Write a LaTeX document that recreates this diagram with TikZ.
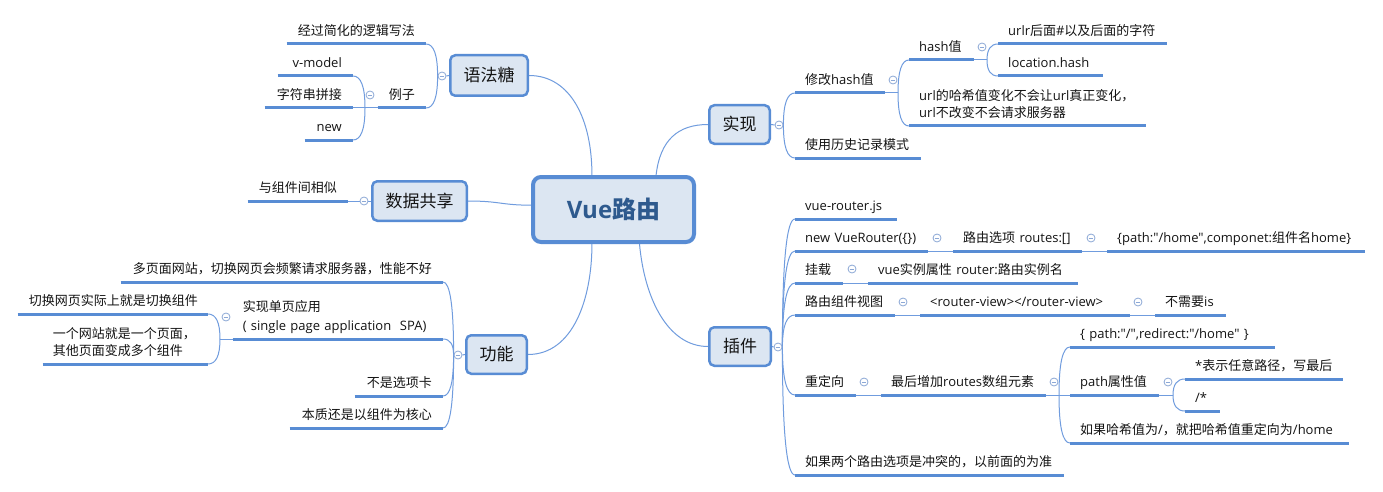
\documentclass[tikz,border=0pt]{standalone}
\usepackage{fontspec}
\setmainfont{Open Sans}[Ligatures=TeXOff]
\newfontfamily\cjkf{Noto Sans CJK SC}[Ligatures=TeXOff]
\newfontfamily\latf{Open Sans}[Ligatures=TeXOff]
\usetikzlibrary{calc}
\XeTeXinterchartokenstate=1
\newXeTeXintercharclass\CJKcls
\newcount\mycnt
\def\setcjkrange#1#2{\mycnt=#1\relax\loop\XeTeXcharclass\mycnt=\CJKcls\advance\mycnt by 1\relax\ifnum\mycnt<#2\relax\repeat}
\setcjkrange{"3000}{"3040}
\setcjkrange{"4E00}{"A000}
\setcjkrange{"FF00}{"FFF0}
\XeTeXinterchartoks 0 \CJKcls={\cjkf}
\XeTeXinterchartoks 4095 \CJKcls={\cjkf}
\XeTeXinterchartoks \CJKcls 0={\latf}
\XeTeXinterchartoks 4095 0={\latf}
\newcommand\mystrut{\rule[-4pt]{0pt}{13pt}}
\definecolor{lineC}{RGB}{88,140,212}
\definecolor{connC}{RGB}{112,156,222}
\definecolor{boxF}{RGB}{220,230,242}
\definecolor{circC}{RGB}{140,168,214}
\definecolor{vueT}{RGB}{46,90,142}
\definecolor{txtC}{RGB}{20,20,20}
\pgfdeclarelayer{bg}
\pgfsetlayers{bg,main}
\tikzset{
  tbase/.style={inner ysep=4pt, text=txtC, font=\latf\fontsize{13}{18}\selectfont, execute at end node=\mystrut},
  rtop/.style={tbase, anchor=south west, inner xsep=10pt, align=left, text width=#1},
  ltop/.style={tbase, anchor=south east, inner xsep=11pt, align=right, text width=#1},
  lmul/.style={tbase, anchor=south east, inner xsep=10pt, align=left, text width=#1},
  bx/.style={draw=lineC, line width=2.5pt, fill=boxF, rounded corners=5pt, font=\latf\fontsize{17}{20}\selectfont, text=txtC, inner sep=0pt},
  vuebx/.style={draw=lineC, line width=4pt, fill=boxF, rounded corners=8pt, font=\latf\bfseries\fontsize{24}{28}\selectfont, text=vueT, inner sep=0pt},
  tog/.style={circle, draw=circC, fill=white, line width=0.8pt, minimum size=8pt, inner sep=0pt,
    path picture={\draw[circC, line width=0.8pt] ([xshift=-2.3pt]path picture bounding box.center) -- ([xshift=2.3pt]path picture bounding box.center);}},
  conn/.style={draw=connC, line width=1pt},
  uline/.style={draw=lineC, line width=3pt},
  qc/.style={to path={let \p1=(\tikztostart), \p2=(\tikztotarget) in .. controls (\x1,{\y1+0.667*(\y2-\y1)}) and ({\x2+0.667*(\x1-\x2)},\y2) .. (\tikztotarget)}}
}
\begin{document}
\begin{tikzpicture}[x=1pt,y=-1pt]
\useasboundingbox (0,0) rectangle (1383,492);
% central and main boxes
\node[vuebx, minimum width=161pt, minimum height=65pt] (vue) at (613.5,209.5) {Vue路由};
\node[bx, minimum width=77.5pt, minimum height=40.5pt] (ysy) at (489,75.5) {语法糖};
\node[bx, minimum width=94.5pt, minimum height=39.5pt] (sj) at (419.5,201) {数据共享};
\node[bx, minimum width=60.5pt, minimum height=38.5pt] (gn) at (496.5,354.5) {功能};
\node[bx, minimum width=60.5pt, minimum height=38.5pt] (sx) at (739.5,124.5) {实现};
\node[bx, minimum width=61.5pt, minimum height=38.5pt] (cj) at (740,346.5) {插件};
% left topics
\node[ltop=117pt] (L1) at (426,44) {经过简化的逻辑写法};
\node[ltop=26pt] (L2) at (426,108) {例子};
\node[ltop=53pt] (L3) at (353,76) {v-model};
\node[ltop=66pt] (L4) at (353,108) {字符串拼接};
\node[ltop=26pt] (L5) at (353,140) {new};
\node[ltop=78pt] (L6) at (348,201) {与组件间相似};
\node[ltop=300pt] (L7) at (443,282) {多页面网站，切换网页会频繁请求服务器，性能不好};
\node[lmul=190pt, font=\latf\fontsize{13}{19}\selectfont] (L8) at (443,339) {实现单页应用\\(~single~page~application~~SPA)};
\node[ltop=170pt, inner xsep=10pt] (L9) at (208,314) {切换网页实际上就是切换组件};
\node[lmul=145pt, font=\latf\fontsize{13}{17}\selectfont] (L10) at (208,364) {一个网站就是一个页面，\\其他页面变成多个组件};
\node[ltop=66pt] (L11) at (443,396) {不是选项卡};
\node[ltop=131pt] (L12) at (443,428) {本质还是以组件为核心};
% right topics
\node[rtop=70pt] (R1) at (795,93) {修改hash值};
\node[rtop=106pt] (R2) at (795,158) {使用历史记录模式};
\node[rtop=45pt] (R3) at (909,60) {hash值};
\node[rtop=217pt, font=\latf\fontsize{13}{17}\selectfont] (R4) at (909,126) {url的哈希值变化不会让url真正变化，\\url不改变不会请求服务器};
\node[rtop=149pt] (R5) at (998,44) {urlr后面\#以及后面的字符};
\node[rtop=85pt] (R6) at (998,76) {location.hash};
\node[rtop=82pt] (R7) at (795,219) {vue-router.js};
\node[rtop=113pt] (R8) at (795,251) {new~VueRouter(\{\})};
\node[rtop=109pt] (R9) at (953,251) {路由选项~routes:[]};
\node[rtop=238pt] (R10) at (1107,251) {\{path:"/home",componet:组件名home\}};
\node[rtop=28pt] (R11) at (795,283) {挂载};
\node[rtop=190pt] (R12) at (868,283) {vue实例属性~router:路由实例名};
\node[rtop=80pt] (R13) at (795,315) {路由组件视图};
\node[rtop=190pt] (R14) at (920,315) {<router-view></router-view>};
\node[rtop=51pt] (R15) at (1155,315) {不需要is};
\node[rtop=41pt] (R16) at (795,395) {重定向};
\node[rtop=145pt] (R17) at (881,395) {最后增加routes数组元素};
\node[rtop=185pt] (R18) at (1070,347) {\{~path:"/",redirect:"/home"~\}};
\node[rtop=69pt] (R19) at (1070,395) {path属性值};
\node[rtop=138pt] (R20) at (1185,379) {*表示任意路径，写最后};
\node[rtop=15pt] (R21) at (1185,411) {/*};
\node[rtop=259pt] (R22) at (1070,443) {如果哈希值为/，就把哈希值重定向为/home};
\node[rtop=249pt] (R23) at (795,475) {如果两个路由选项是冲突的，以前面的为准};
% collapse markers
\node[tog] (cY) at (442,76) {};
\node[tog] (cL) at (370,95) {};
\node[tog] (cS) at (364,201) {};
\node[tog] (cG) at (458,355) {};
\node[tog] (cD) at (226,317) {};
\node[tog] (cX) at (779,125) {};
\node[tog] (cR1) at (893,80) {};
\node[tog] (cR3) at (982,47) {};
\node[tog] (cC) at (778,347) {};
\node[tog] (cR8) at (937,238) {};
\node[tog] (cR9) at (1091,238) {};
\node[tog] (cR11) at (852,269) {};
\node[tog] (cR13) at (903,302) {};
\node[tog] (cR14) at (1138,302) {};
\node[tog] (cR16) at (864,382) {};
\node[tog] (cR17) at (1054,382) {};
\node[tog] (cR19) at (1168,382) {};
% junctions
\coordinate (jL) at (365,108);
\coordinate (jD) at (220,339);
\coordinate (jR1) at (898,93);
\coordinate (jR3) at (987,60);
\coordinate (jR17) at (1059,395);
\coordinate (jR19) at (1173,395);
\begin{pgfonlayer}{bg}
\fill[white] (0,0) rectangle (1383,492);
% central branches
\draw[conn] (ysy.east) .. controls +(42,0) and +(0,-55) .. (vue.122);
\draw[conn] (sj.east) .. controls +(32,0) and +(-30,0) .. (vue.177);
\draw[conn] (gn.east) .. controls +(45,0) and +(0,55) .. (vue.238);
\draw[conn] (vue.39) .. controls +(4,-35) and +(-30,0) .. (sx.west);
\draw[conn] (vue.307) .. controls +(5,55) and +(-40,0) .. (cj.west);
% left side
\draw[conn] (ysy.west) -- (cY.east);
\draw[conn] (cY.west) to[qc] (L1.south east);
\draw[conn] (cY.west) to[qc] (L2.south east);
\draw[conn] (L2.south west) -- (jL);
\draw[conn] (jL) to[qc] (L3.south east);
\draw[conn] (jL) -- (L4.south east);
\draw[conn] (jL) to[qc] (L5.south east);
\draw[conn] (sj.west) -- (cS.east);
\draw[conn] (cS.west) -- (L6.south east);
\draw[conn] (gn.west) -- (cG.east);
\draw[conn] (cG.west) to[qc] (L7.south east);
\draw[conn] (cG.west) to[qc] (L8.south east);
\draw[conn] (cG.west) to[qc] (L11.south east);
\draw[conn] (cG.west) to[qc] (L12.south east);
\draw[conn] (L8.south west) -- (jD);
\draw[conn] (jD) to[qc] (L9.south east);
\draw[conn] (jD) to[qc] (L10.south east);
% right side
\draw[conn] (sx.east) -- (cX.west);
\draw[conn] (cX.east) to[qc] (R1.south west);
\draw[conn] (cX.east) to[qc] (R2.south west);
\draw[conn] (R1.south east) -- (jR1);
\draw[conn] (jR1) to[qc] (R3.south west);
\draw[conn] (jR1) to[qc] (R4.south west);
\draw[conn] (R3.south east) -- (jR3);
\draw[conn] (jR3) to[qc] (R5.south west);
\draw[conn] (jR3) to[qc] (R6.south west);
\draw[conn] (cj.east) -- (cC.west);
\draw[conn] (cC.east) to[qc] (R7.south west);
\draw[conn] (cC.east) to[qc] (R8.south west);
\draw[conn] (cC.east) to[qc] (R11.south west);
\draw[conn] (cC.east) to[qc] (R13.south west);
\draw[conn] (cC.east) to[qc] (R16.south west);
\draw[conn] (cC.east) to[qc] (R23.south west);
\draw[conn] (R8.south east) -- (R9.south west);
\draw[conn] (R9.south east) -- (R10.south west);
\draw[conn] (R11.south east) -- (R12.south west);
\draw[conn] (R13.south east) -- (R14.south west);
\draw[conn] (R14.south east) -- (R15.south west);
\draw[conn] (R16.south east) -- (R17.south west);
\draw[conn] (R17.south east) -- (jR17);
\draw[conn] (jR17) to[qc] (R18.south west);
\draw[conn] (jR17) -- (R19.south west);
\draw[conn] (jR17) to[qc] (R22.south west);
\draw[conn] (R19.south east) -- (jR19);
\draw[conn] (jR19) to[qc] (R20.south west);
\draw[conn] (jR19) to[qc] (R21.south west);
% underlines
\foreach \nm in {L1,L2,L3,L4,L5,L6,L7,L8,L9,L10,L11,L12,R1,R2,R3,R4,R5,R6,R7,R8,R9,R10,R11,R12,R13,R14,R15,R16,R17,R18,R19,R20,R21,R22,R23}
  \draw[uline] (\nm.south west) -- (\nm.south east);
\end{pgfonlayer}
\end{tikzpicture}
\end{document}
